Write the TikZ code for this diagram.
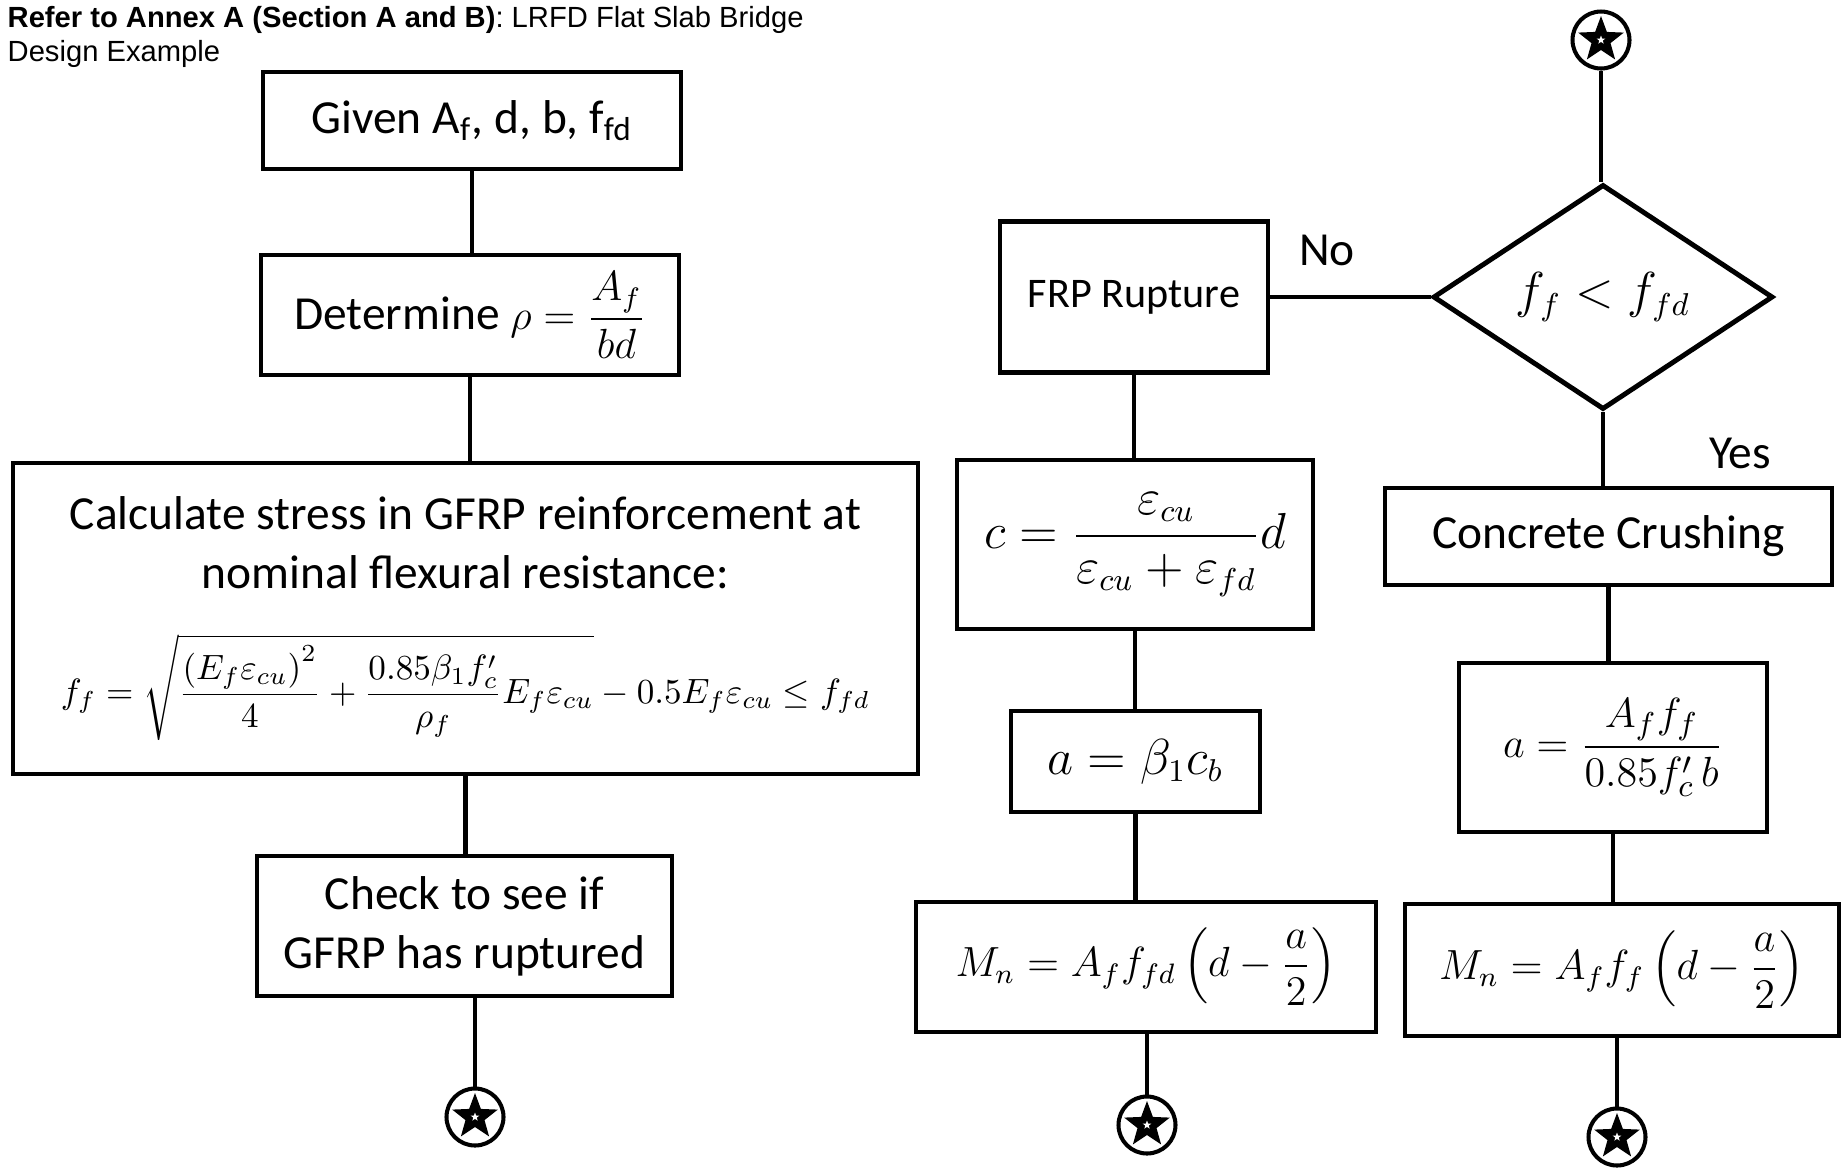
\documentclass[tikz,border=0pt]{standalone}
\usepackage{amsmath}
\usepackage{fontspec}
\setmainfont{Carlito}
\newfontfamily\headfont{Liberation Sans}
\usepackage{tikz}
\usetikzlibrary{shapes.geometric, positioning}
\newcommand{\boxfont}{\fontsize{13.5}{16.8}\selectfont}
\newcommand{\mathsize}[1]{\fontsize{#1}{#1}\selectfont}
\tikzset{
  block/.style={rectangle, draw=black, line width=1.4pt, align=center,
    inner sep=2pt, font=\boxfont},
  decision/.style={diamond, draw=black, line width=1.4pt, minimum width=3.40cm,
    minimum height=2.25cm, inner sep=0pt, font=\boxfont},
  line/.style={line width=1.2pt, color=black},
  lbl/.style={font=\boxfont, inner sep=0pt},
  offpage/.style={circle, draw=black, line width=1.15pt, minimum size=0.57cm,
    inner sep=0pt,
    path picture={
      \node[star, star points=5, star point ratio=2.4, fill=black,
        minimum size=0.48cm, inner sep=0pt] at (path picture bounding box.center) {};
      \node[star, star points=5, star point ratio=2.4, fill=white,
        minimum size=0.09cm, inner sep=0pt] at (path picture bounding box.center) {};
    }}
}

\begin{document}
\begin{tikzpicture}
  \useasboundingbox (0,0) rectangle (18.41,-11.68);

  % Heading
  \node[anchor=north west, align=left, inner sep=0pt,
    font=\headfont\fontsize{8.3}{9.6}\selectfont] (title) at (0.07,-0.06)
    {\textbf{Refer to Annex A (Section A and B)}: LRFD Flat Slab Bridge\\Design Example};

  % Left column
  \node[block, minimum width=4.18cm, minimum height=0.97cm] (given) at (4.72,-1.205)
    {Given A\textsubscript{f}, d, b, f\textsubscript{fd}};
  \node[block, minimum width=4.18cm, minimum height=1.20cm] (rho) at (4.70,-3.15)
    {Determine {\mathsize{12}$\rho=\dfrac{A_f}{bd}$}};
  \node[block, minimum width=9.05cm, minimum height=3.11cm] (stress) at (4.655,-6.185)
    {Calculate stress in GFRP reinforcement at\\nominal flexural resistance:\\[12pt]
     {\mathsize{10.2}$\displaystyle f_f=\sqrt{\frac{\left(E_f\varepsilon_{cu}\right)^2}{4}
     +\frac{0.85\beta_1 f'_c}{\rho_f}E_f\varepsilon_{cu}}-0.5E_f\varepsilon_{cu}\le f_{fd}$}};
  \node[block, minimum width=4.15cm, minimum height=1.40cm] (check) at (4.645,-9.26)
    {Check to see if\\GFRP has ruptured};
  \node[offpage] (endA) at (4.75,-11.17) {};

  % Middle column (FRP rupture)
  \node[block, minimum width=2.68cm, minimum height=1.51cm,
    font=\fontsize{12}{14}\selectfont] (rupture) at (11.34,-2.97) {FRP Rupture};
  \node[block, minimum width=3.56cm, minimum height=1.69cm] (cdepth) at (11.35,-5.445)
    {$c=\dfrac{\varepsilon_{cu}}{\varepsilon_{cu}+\varepsilon_{fd}}d$};
  \node[block, minimum width=2.49cm, minimum height=1.01cm] (ablock) at (11.355,-7.615)
    {$a=\beta_1 c_b$};
  \node[block, minimum width=4.60cm, minimum height=1.30cm] (mrupt) at (11.46,-9.67)
    {\mathsize{11.7}$M_n=A_f f_{fd}\left(d-\dfrac{a}{2}\right)$};
  \node[offpage] (endB) at (11.47,-11.25) {};

  % Right column (concrete crushing)
  \node[offpage] (startC) at (16.01,-0.40) {};
  \node[decision] (ratio) at (16.03,-2.97) {$f_f<f_{fd}$};
  \node[block, minimum width=4.47cm, minimum height=0.97cm] (crush) at (16.085,-5.365)
    {Concrete Crushing};
  \node[block, minimum width=3.08cm, minimum height=1.69cm] (acrush) at (16.13,-7.475)
    {\mathsize{12.4}$a=\dfrac{A_f f_f}{0.85f'_c\,b}$};
  \node[block, minimum width=4.34cm, minimum height=1.32cm] (mcrush) at (16.22,-9.70)
    {\mathsize{11.6}$M_n=A_f f_f\left(d-\dfrac{a}{2}\right)$};
  \node[offpage] (endC) at (16.17,-11.37) {};

  % Branch labels
  \node[lbl] (no) at (13.27,-2.50) {No};
  \node[lbl] (yes) at (17.40,-4.53) {Yes};

  % Connections: left column
  \draw[line] (given.south) -- (given.south |- rho.north);
  \draw[line] (rho.south) -- (rho.south |- stress.north);
  \draw[line] (stress.south) -- (stress.south |- check.north);
  \draw[line] (check.south -| endA) -- (endA.north);

  % Connections: middle column
  \draw[line] (ratio.west) -- (rupture.east |- ratio.west);
  \draw[line] (rupture.south) -- (rupture.south |- cdepth.north);
  \draw[line] (cdepth.south) -- (cdepth.south |- ablock.north);
  \draw[line] (ablock.south) -- (ablock.south |- mrupt.north);
  \draw[line] (mrupt.south -| endB) -- (endB.north);

  % Connections: right column
  \draw[line] (startC.south) -- (startC.south |- ratio.north);
  \draw[line] (ratio.south) -- (ratio.south |- crush.north);
  \draw[line] (crush.south) -- (crush.south |- acrush.north);
  \draw[line] (acrush.south) -- (acrush.south |- mcrush.north);
  \draw[line] (mcrush.south -| endC) -- (endC.north);
\end{tikzpicture}
\end{document}
